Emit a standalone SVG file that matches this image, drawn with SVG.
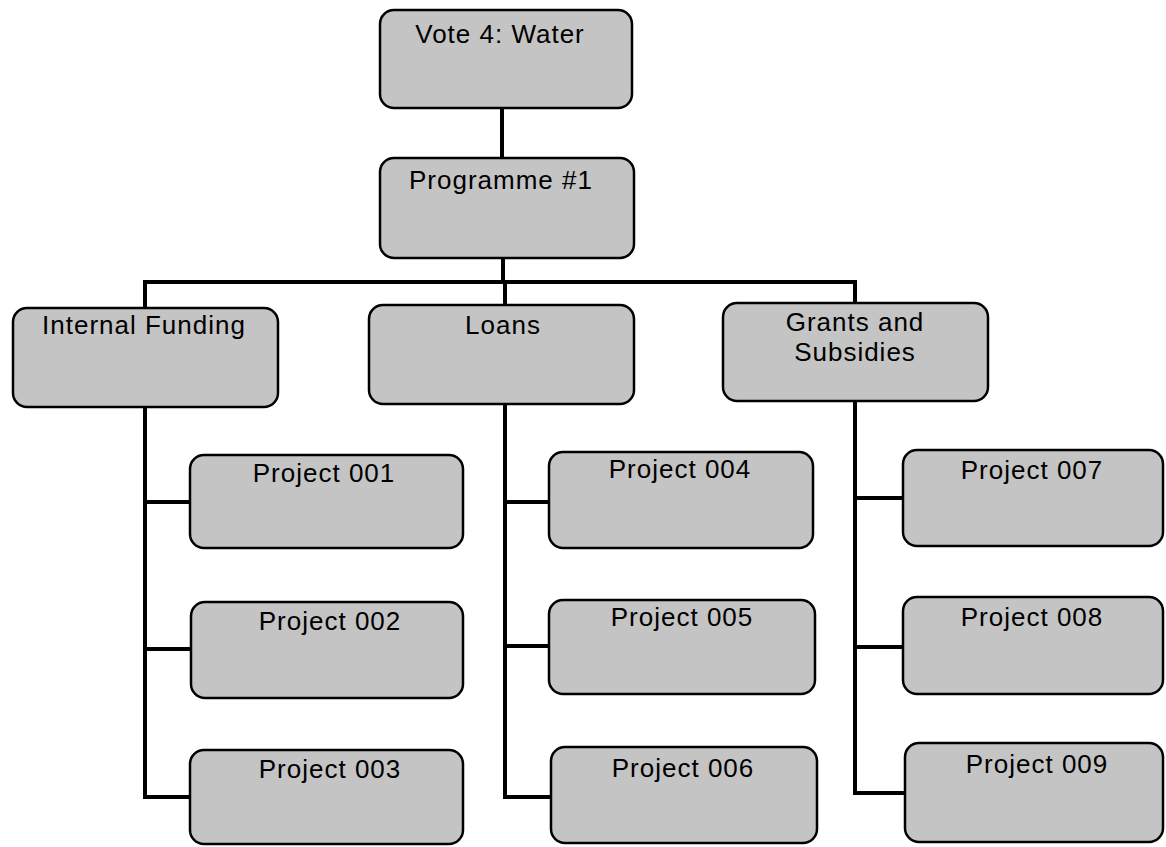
<svg xmlns="http://www.w3.org/2000/svg" width="1166" height="847" viewBox="0 0 1166 847">
<style>
.box{fill:#c4c4c4;stroke:#000;stroke-width:2.5}
.lbl{font-family:"Liberation Sans",Arial,sans-serif;font-size:26px;fill:#000;text-anchor:middle;letter-spacing:1px}
.conn{fill:none;stroke:#000;stroke-width:4;stroke-linecap:square}
</style>
<rect width="1166" height="847" fill="#fff"/>
<g id="connectors">
<path class="conn" d="M502 108V158"/>
<path class="conn" d="M503 258V282"/>
<path class="conn" d="M145 282H855"/>
<path class="conn" d="M145 282V797H190"/>
<path class="conn" d="M145 502H190M145 649H190"/>
<path class="conn" d="M505 282V797H549"/>
<path class="conn" d="M505 502H549M505 646H549"/>
<path class="conn" d="M855 282V793H903"/>
<path class="conn" d="M855 498H903M855 647H903"/>
</g>
<g id="vote4"><rect class="box" x="380" y="10" width="252" height="98" rx="14"/><text class="lbl" x="500" y="43">Vote 4: Water</text></g>
<g id="programme1"><rect class="box" x="380" y="158" width="254" height="100" rx="14"/><text class="lbl" x="501" y="189">Programme #1</text></g>
<g id="internal"><rect class="box" x="13" y="308" width="265" height="99" rx="14"/><text class="lbl" x="144" y="334">Internal Funding</text></g>
<g id="loans"><rect class="box" x="369" y="305" width="265" height="99" rx="14"/><text class="lbl" x="503" y="334">Loans</text></g>
<g id="grants"><rect class="box" x="723" y="303" width="265" height="98" rx="14"/><text class="lbl" x="855" y="331">Grants and</text><text class="lbl" x="855" y="361">Subsidies</text></g>
<g id="p001"><rect class="box" x="190" y="455" width="273" height="93" rx="14"/><text class="lbl" x="324" y="482">Project 001</text></g>
<g id="p002"><rect class="box" x="191" y="602" width="272" height="96" rx="14"/><text class="lbl" x="330" y="630">Project 002</text></g>
<g id="p003"><rect class="box" x="190" y="750" width="273" height="94" rx="14"/><text class="lbl" x="330" y="778">Project 003</text></g>
<g id="p004"><rect class="box" x="549" y="452" width="264" height="96" rx="14"/><text class="lbl" x="680" y="478">Project 004</text></g>
<g id="p005"><rect class="box" x="549" y="600" width="266" height="94" rx="14"/><text class="lbl" x="682" y="626">Project 005</text></g>
<g id="p006"><rect class="box" x="551" y="747" width="266" height="96" rx="14"/><text class="lbl" x="683" y="777">Project 006</text></g>
<g id="p007"><rect class="box" x="903" y="450" width="260" height="96" rx="14"/><text class="lbl" x="1032" y="479">Project 007</text></g>
<g id="p008"><rect class="box" x="903" y="597" width="260" height="97" rx="14"/><text class="lbl" x="1032" y="626">Project 008</text></g>
<g id="p009"><rect class="box" x="905" y="743" width="258" height="99" rx="14"/><text class="lbl" x="1037" y="773">Project 009</text></g>
</svg>
